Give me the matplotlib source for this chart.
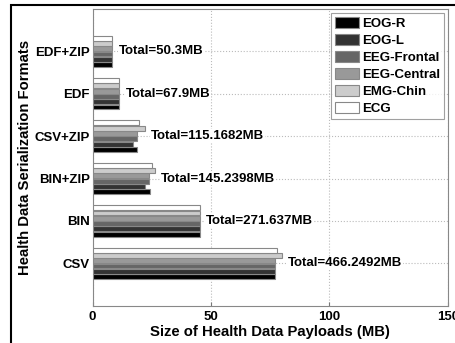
import matplotlib.pyplot as plt
import numpy as np
from matplotlib.patches import Rectangle

plt.rcParams.update(
    {
        "font.family": "Liberation Sans",
        "font.weight": "bold",
        "font.size": 9.5,
    }
)

formats = ["CSV", "BIN", "BIN+ZIP", "CSV+ZIP", "EDF", "EDF+ZIP"]
channels = ["EOG-R", "EOG-L", "EEG-Frontal", "EEG-Central", "EMG-Chin", "ECG"]
colors = ["#000000", "#333333", "#666666", "#999999", "#cccccc", "#ffffff"]

# sizes per channel (MB), one list per format
csv = [77.2, 77.2, 77.2, 77.0, 79.8, 77.85]
bin_ = [45.27, 45.27, 45.27, 45.27, 45.27, 45.27]
bin_zip = [24.1, 22.1, 23.9, 23.7, 26.4, 25.0]
csv_zip = [18.8, 17.0, 18.9, 18.7, 22.0, 19.8]
edf = [11.32, 11.32, 11.32, 11.32, 11.32, 11.32]
edf_zip = [8.38, 8.38, 8.38, 8.38, 8.38, 8.38]
totals = ["466.2492", "271.637", "145.2398", "115.1682", "67.9", "50.3"]

data = np.array([csv, bin_, bin_zip, csv_zip, edf, edf_zip])

fig = plt.figure(figsize=(4.55, 3.43), dpi=100)
ax = fig.add_axes([0.2033, 0.1087, 0.7813, 0.8651])

y = np.arange(1, len(formats) + 1)
step = 0.125
for i, (ch, c) in enumerate(zip(channels, colors)):
    ax.barh(
        y + (i - 2.5) * step,
        data[:, i],
        height=step * 0.92,
        color=c,
        edgecolor="#888888",
        linewidth=0.8,
        label=ch,
        zorder=3,
    )

for yi, row, tot in zip(y, data, totals):
    ax.text(
        row.max() + 2.6,
        yi,
        f"Total={tot}MB",
        va="center",
        ha="left",
        fontsize=9.5,
        fontweight="bold",
        zorder=4,
        bbox=dict(facecolor="white", edgecolor="none", pad=0.5),
    )

ax.set_xlim(0, 150)
ax.set_ylim(0, 7)
ax.set_xticks([0, 50, 100, 150])
ax.set_yticks(y)
ax.set_yticklabels(formats)
ax.tick_params(direction="in", length=3, colors="#777777", labelcolor="black", labelsize=9.5)
ax.tick_params(axis="y", pad=2)
ax.grid(True, linestyle=":", color="#bbbbbb", linewidth=0.8, zorder=0)
for s in ax.spines.values():
    s.set_color("#888888")
    s.set_linewidth(0.8)

ax.set_xlabel("Size of Health Data Payloads (MB)", fontsize=10.7, fontweight="bold", labelpad=2)
ax.set_ylabel("Health Data Serialization Formats", fontsize=10.7, fontweight="bold", labelpad=2)

leg = ax.legend(
    loc="upper right",
    fontsize=9.5,
    frameon=True,
    fancybox=False,
    edgecolor="#888888",
    borderaxespad=0.3,
    handlelength=1.8,
    handleheight=0.9,
    labelspacing=0.3,
    handletextpad=0.25,
    borderpad=0.3,
)
leg.get_frame().set_linewidth(0.8)

# outer black frame
fig.patches.append(
    Rectangle(
        (0.024, -0.05), 1.2, 1.036,
        transform=fig.transFigure, fill=False, edgecolor="black", linewidth=1.5, clip_on=False,
    )
)

fig.savefig("out.png", dpi=100)
